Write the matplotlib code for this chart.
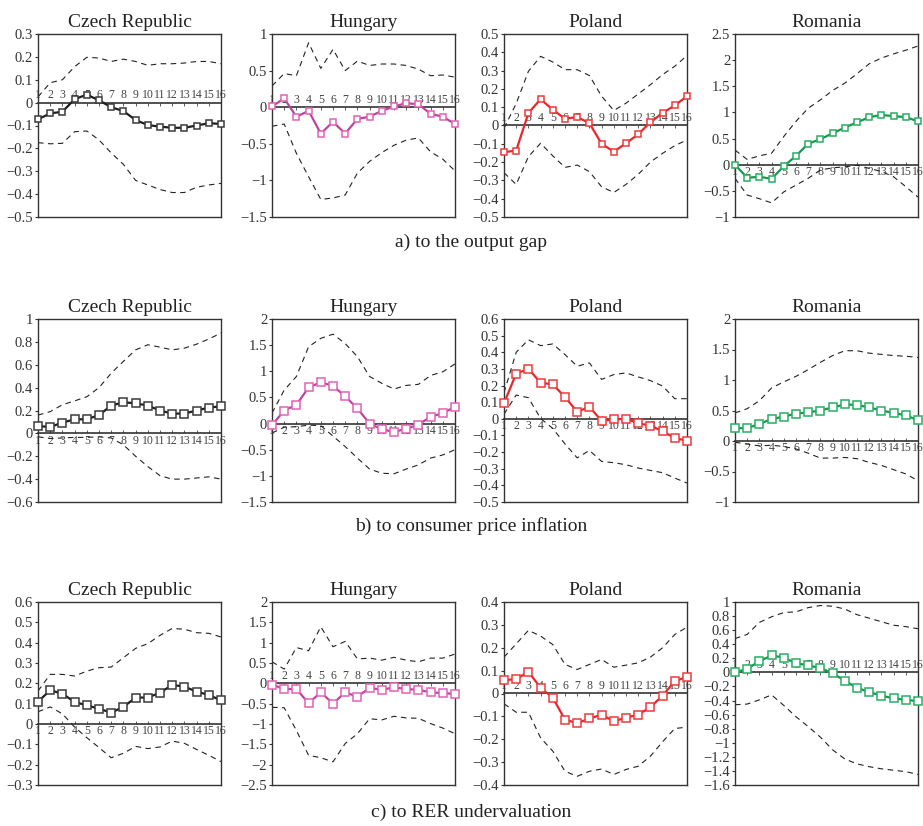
import numpy as np
import matplotlib
matplotlib.use("Agg")
import matplotlib.pyplot as plt
from matplotlib.ticker import FuncFormatter, MultipleLocator

plt.rcParams['font.family'] = ['Liberation Serif', 'DejaVu Serif']

# impulse horizon (quarters)
horizon = list(range(1, 17))
countries = ["Czech Republic", "Hungary", "Poland", "Romania"]
captions = ["a) to the output gap", "b) to consumer price inflation", "c) to RER undervaluation"]

# a) response to the output gap
cz_gap = [-0.073, -0.047, -0.04, 0.015, 0.035, 0.01, -0.02, -0.037, -0.076, -0.098, -0.105, -0.11, -0.11, -0.1, -0.09, -0.093]
cz_gap_hi = [0.025, 0.087, 0.10, 0.157, 0.198, 0.195, 0.18, 0.19, 0.18, 0.163, 0.17, 0.17, 0.173, 0.18, 0.18, 0.17]
cz_gap_lo = [-0.175, -0.18, -0.178, -0.127, -0.124, -0.163, -0.22, -0.27, -0.34, -0.36, -0.38, -0.393, -0.393, -0.37, -0.36, -0.353]
hu_gap = [0.01, 0.12, -0.13, -0.05, -0.36, -0.2, -0.36, -0.16, -0.13, -0.05, 0.01, 0.055, 0.04, -0.09, -0.13, -0.23]
hu_gap_hi = [0.29, 0.46, 0.43, 0.88, 0.53, 0.79, 0.5, 0.63, 0.57, 0.59, 0.59, 0.57, 0.52, 0.43, 0.44, 0.41]
hu_gap_lo = [-0.26, -0.23, -0.63, -0.95, -1.26, -1.24, -1.2, -0.9, -0.74, -0.62, -0.52, -0.45, -0.42, -0.61, -0.71, -0.87]
pl_gap = [-0.146, -0.137, 0.068, 0.144, 0.086, 0.037, 0.046, 0.013, -0.1, -0.143, -0.097, -0.048, 0.018, 0.068, 0.11, 0.16]
pl_gap_hi = [-0.015, 0.12, 0.296, 0.378, 0.347, 0.305, 0.305, 0.273, 0.16, 0.082, 0.122, 0.172, 0.223, 0.278, 0.324, 0.382]
pl_gap_lo = [-0.258, -0.322, -0.17, -0.097, -0.166, -0.229, -0.216, -0.252, -0.335, -0.366, -0.322, -0.267, -0.2, -0.152, -0.11, -0.079]
ro_gap = [0.0, -0.25, -0.23, -0.27, -0.03, 0.17, 0.4, 0.49, 0.6, 0.71, 0.81, 0.91, 0.95, 0.93, 0.91, 0.83]
ro_gap_hi = [0.28, 0.1, 0.17, 0.22, 0.54, 0.83, 1.08, 1.24, 1.42, 1.56, 1.74, 1.93, 2.04, 2.12, 2.19, 2.27]
ro_gap_lo = [-0.26, -0.58, -0.65, -0.73, -0.52, -0.39, -0.26, -0.1, -0.06, -0.04, -0.01, -0.07, -0.13, -0.23, -0.42, -0.62]

# b) response to consumer price inflation
cz_cpi = [0.064, 0.056, 0.094, 0.123, 0.123, 0.16, 0.243, 0.272, 0.263, 0.243, 0.2, 0.173, 0.173, 0.2, 0.225, 0.237]
cz_cpi_hi = [0.16, 0.19, 0.25, 0.284, 0.32, 0.4, 0.526, 0.63, 0.73, 0.775, 0.754, 0.73, 0.745, 0.78, 0.825, 0.877]
cz_cpi_lo = [-0.03, -0.045, -0.04, -0.035, -0.035, -0.03, -0.04, -0.1, -0.2, -0.29, -0.37, -0.4, -0.4, -0.39, -0.38, -0.4]
hu_cpi = [-0.03, 0.25, 0.36, 0.69, 0.79, 0.72, 0.52, 0.29, 0.0, -0.11, -0.16, -0.1, -0.02, 0.13, 0.2, 0.32]
hu_cpi_hi = [0.2, 0.64, 0.9, 1.47, 1.63, 1.71, 1.53, 1.28, 0.9, 0.77, 0.66, 0.73, 0.75, 0.92, 0.99, 1.14]
hu_cpi_lo = [-0.18, -0.07, -0.06, -0.03, -0.04, -0.24, -0.44, -0.66, -0.87, -0.95, -0.96, -0.87, -0.79, -0.66, -0.6, -0.5]
pl_cpi = [0.093, 0.272, 0.3, 0.217, 0.207, 0.131, 0.042, 0.072, -0.012, -0.004, 0.0, -0.026, -0.042, -0.074, -0.117, -0.131]
pl_cpi_hi = [0.157, 0.4, 0.475, 0.44, 0.45, 0.386, 0.316, 0.336, 0.237, 0.266, 0.276, 0.252, 0.23, 0.197, 0.121, 0.121]
pl_cpi_lo = [0.028, 0.143, 0.127, 0.002, -0.058, -0.151, -0.235, -0.19, -0.256, -0.264, -0.276, -0.296, -0.31, -0.324, -0.356, -0.386]
ro_cpi = [0.21, 0.21, 0.28, 0.36, 0.4, 0.45, 0.47, 0.5, 0.55, 0.6, 0.59, 0.55, 0.5, 0.46, 0.42, 0.34]
ro_cpi_hi = [0.46, 0.53, 0.66, 0.87, 0.97, 1.06, 1.17, 1.29, 1.4, 1.48, 1.48, 1.44, 1.42, 1.4, 1.39, 1.37]
ro_cpi_lo = [-0.02, -0.05, -0.08, -0.07, -0.09, -0.13, -0.2, -0.28, -0.28, -0.27, -0.29, -0.35, -0.4, -0.47, -0.54, -0.65]

# c) response to RER undervaluation
cz_rer = [0.11, 0.166, 0.149, 0.108, 0.092, 0.075, 0.056, 0.084, 0.13, 0.13, 0.154, 0.192, 0.184, 0.159, 0.143, 0.116]
cz_rer_hi = [0.162, 0.244, 0.244, 0.236, 0.26, 0.277, 0.28, 0.326, 0.372, 0.395, 0.436, 0.47, 0.466, 0.449, 0.446, 0.428]
cz_rer_lo = [0.06, 0.084, 0.05, -0.015, -0.067, -0.116, -0.166, -0.144, -0.11, -0.121, -0.113, -0.084, -0.095, -0.125, -0.154, -0.185]
hu_rer = [-0.03, -0.14, -0.14, -0.49, -0.22, -0.5, -0.22, -0.33, -0.11, -0.16, -0.1, -0.14, -0.16, -0.22, -0.24, -0.26]
hu_rer_hi = [0.53, 0.35, 0.88, 0.8, 1.39, 0.9, 1.03, 0.6, 0.62, 0.57, 0.64, 0.57, 0.53, 0.62, 0.62, 0.72]
hu_rer_lo = [-0.59, -0.6, -1.16, -1.77, -1.83, -1.93, -1.48, -1.24, -0.87, -0.9, -0.81, -0.85, -0.86, -0.99, -1.1, -1.24]
pl_rer = [0.058, 0.063, 0.095, 0.025, -0.019, -0.114, -0.13, -0.109, -0.093, -0.121, -0.106, -0.092, -0.06, -0.009, 0.054, 0.073]
pl_rer_hi = [0.159, 0.217, 0.276, 0.251, 0.214, 0.127, 0.105, 0.127, 0.149, 0.115, 0.124, 0.134, 0.159, 0.2, 0.258, 0.29]
pl_rer_lo = [-0.045, -0.082, -0.082, -0.194, -0.252, -0.34, -0.362, -0.34, -0.33, -0.354, -0.332, -0.318, -0.274, -0.211, -0.153, -0.147]
ro_rer = [0.0, 0.05, 0.16, 0.24, 0.21, 0.13, 0.1, 0.06, -0.01, -0.12, -0.22, -0.28, -0.33, -0.37, -0.39, -0.41]
ro_rer_hi = [0.48, 0.54, 0.71, 0.79, 0.85, 0.86, 0.92, 0.95, 0.94, 0.9, 0.82, 0.77, 0.72, 0.67, 0.65, 0.62]
ro_rer_lo = [-0.46, -0.45, -0.39, -0.32, -0.47, -0.63, -0.77, -0.92, -1.1, -1.23, -1.3, -1.34, -1.37, -1.39, -1.41, -1.45]

# axis ranges (ymin, ymax, step) per panel
ranges = [
    [(-0.5, 0.3, 0.1), (-1.5, 1.0, 0.5), (-0.5, 0.5, 0.1), (-1.0, 2.5, 0.5)],
    [(-0.6, 1.0, 0.2), (-1.5, 2.0, 0.5), (-0.5, 0.6, 0.1), (-1.0, 2.0, 0.5)],
    [(-0.3, 0.6, 0.1), (-2.5, 2.0, 0.5), (-0.4, 0.4, 0.1), (-1.6, 1.0, 0.2)],
]
panels = [
    [(cz_gap, cz_gap_lo, cz_gap_hi), (hu_gap, hu_gap_lo, hu_gap_hi), (pl_gap, pl_gap_lo, pl_gap_hi), (ro_gap, ro_gap_lo, ro_gap_hi)],
    [(cz_cpi, cz_cpi_lo, cz_cpi_hi), (hu_cpi, hu_cpi_lo, hu_cpi_hi), (pl_cpi, pl_cpi_lo, pl_cpi_hi), (ro_cpi, ro_cpi_lo, ro_cpi_hi)],
    [(cz_rer, cz_rer_lo, cz_rer_hi), (hu_rer, hu_rer_lo, hu_rer_hi), (pl_rer, pl_rer_lo, pl_rer_hi), (ro_rer, ro_rer_lo, ro_rer_hi)],
]

line_cols = ['#1e1e1e', '#b8479c', '#e8262b', '#139a4c']
mark_cols = ['#3a3a3a', '#e462b4', '#ee3a3a', '#2aae63']


def fmt(v, pos):
    v = round(v, 6)
    if v == 0:
        return '0'
    return f"{v:g}".replace('-', '\u2212')


W, H = 923, 826
fig = plt.figure(figsize=(W / 100, H / 100), dpi=100)

col_left = [38, 272, 504, 735]
row_top = [34, 319, 602]
ax_w, ax_h = 183, 183
cap_y = [242, 526, 812]

for r in range(3):
    for c in range(4):
        x0 = col_left[c] / W
        y0 = 1 - (row_top[r] + ax_h) / H
        ax = fig.add_axes([x0, y0, ax_w / W, ax_h / H])
        resp, lo, hi = panels[r][c]
        ymin, ymax, step = ranges[r][c]
        ax.set_xlim(1, 16)
        ax.set_ylim(ymin, ymax)
        ax.set_xticks([])
        ax.yaxis.set_major_locator(MultipleLocator(step))
        ax.yaxis.set_major_formatter(FuncFormatter(fmt))
        ax.tick_params(axis='y', direction='out', length=2.5, width=0.8,
                       labelsize=10.5, pad=1, colors='#333333')
        for s in ax.spines.values():
            s.set_color('#333333')
            s.set_linewidth(1.0)
        ax.plot(horizon, hi, color='#222222', lw=0.8, ls=(0, (5, 4)), zorder=2)
        ax.plot(horizon, lo, color='#222222', lw=0.8, ls=(0, (5, 4)), zorder=2)
        ms = 4.2 if r == 0 else 5.4
        ax.plot(horizon, resp, color=line_cols[c], lw=1.6, marker='s', ms=ms,
                mfc='white', mec=mark_cols[c], mew=1.1, zorder=4, clip_on=False)
        # horizon axis drawn on the zero line
        frac = (0 - ymin) / (ymax - ymin)
        sec = ax.secondary_xaxis(frac)
        sec.set_xticks(horizon)
        sec.set_xticklabels([str(h) for h in horizon])
        sec.tick_params(axis='x', direction='in', length=2, width=0.6,
                        labelsize=8.5, pad=1, colors='#444444')
        for name, s in sec.spines.items():
            s.set_color('#333333')
            s.set_linewidth(1.2)
        ax.set_title(countries[c], fontsize=14, pad=5, color='#222222')
    fig.text(471 / W, 1 - cap_y[r] / H, captions[r], ha='center', va='center',
             fontsize=14, color='#222222')

fig.savefig('out.png', dpi=100)
